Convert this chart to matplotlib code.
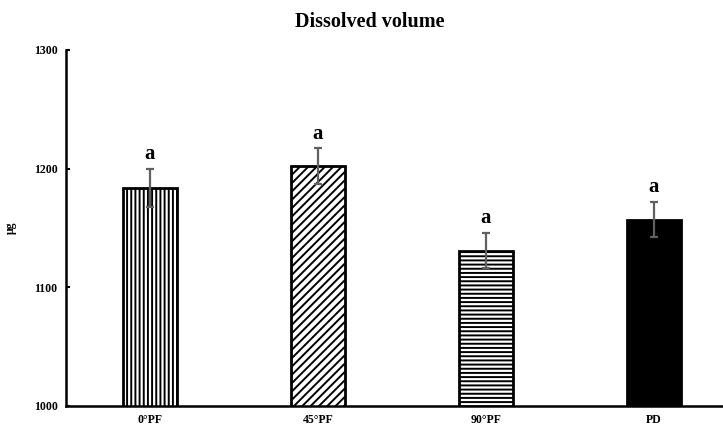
import matplotlib.pyplot as plt
import matplotlib as mpl

groups = ["0°PF", "45°PF", "90°PF", "PD"]
means = [1184, 1202, 1131, 1157]
errors = [16, 15, 15, 15]
letters = ["a", "a", "a", "a"]
y_ticks = [1000, 1100, 1200, 1300]

mpl.rcParams["font.family"] = ["Liberation Serif", "DejaVu Serif"]
mpl.rcParams["font.weight"] = "bold"
mpl.rcParams["hatch.linewidth"] = 1.4

fig = plt.figure(figsize=(7.23, 4.29), dpi=100)
ax = fig.add_axes([66 / 723, 1 - 406 / 429, (723 - 66) / 723, (406 - 50) / 429])

hatches = ["||||", "////", "----", None]
faces = ["white", "white", "white", "black"]
x = range(len(groups))
for i in x:
    ax.bar(i, means[i], width=0.32, bottom=0, color=faces[i], edgecolor="black",
           hatch=hatches[i], linewidth=2, zorder=2)
    ax.errorbar(i, means[i], yerr=errors[i], fmt="none", ecolor="#606060",
                elinewidth=1.6, capsize=3, capthick=1.6, zorder=3)
    ax.text(i, means[i] + errors[i] + 4, letters[i], ha="center", va="bottom",
            fontsize=15, fontweight="bold")

ax.set_ylim(1000, 1300)
ax.set_xlim(-0.5, 3 + (723 - 654) / 168)
ax.set_yticks(y_ticks)
ax.set_xticks(list(x))
ax.set_xticklabels(groups)
ax.tick_params(axis="y", direction="in", length=3, width=1.5, labelsize=8.5, pad=6)
ax.tick_params(axis="x", length=0, labelsize=8.5, pad=6)
for lab in ax.get_xticklabels() + ax.get_yticklabels():
    lab.set_fontweight("bold")

for side in ["top", "right"]:
    ax.spines[side].set_visible(False)
for side in ["left", "bottom"]:
    ax.spines[side].set_linewidth(1.8)

ax.set_ylabel("μg", fontsize=8.5, fontweight="bold", labelpad=12)
fig.text(370 / 723, 1 - 22 / 429, "Dissolved volume", ha="center", va="center",
         fontsize=14.5, fontweight="bold")

fig.savefig("out.png", dpi=100)
